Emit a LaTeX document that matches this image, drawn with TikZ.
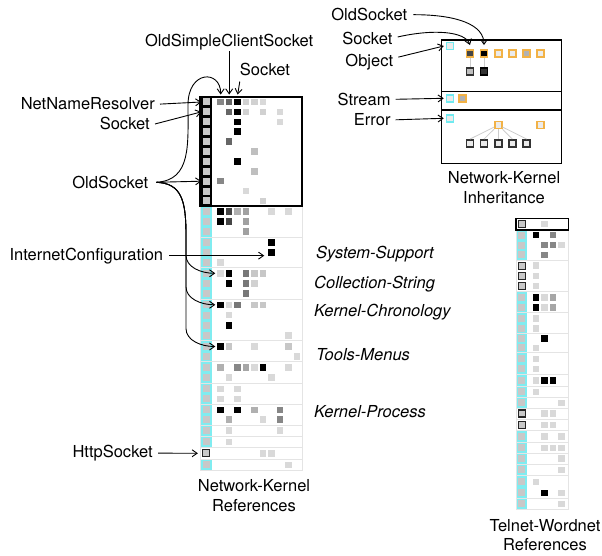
\documentclass[tikz,border=0pt]{standalone}
\usepackage{fontspec}
\setmainfont{TeX Gyre Heros}
\usetikzlibrary{arrows.meta}
\definecolor{cyanband}{RGB}{128,236,240}
\definecolor{inhorange}{RGB}{242,178,70}
\definecolor{inhcyan}{RGB}{112,234,240}
\definecolor{sepgray}{RGB}{228,228,228}
\definecolor{sqgray}{RGB}{200,200,200}
\newcommand{\lblfont}{\fontsize{16.5}{20}\selectfont}

\begin{document}
\begin{tikzpicture}[x=1pt, y=-1pt, every node/.style={inner sep=0pt, font=\lblfont},
  cell/.style={minimum size=6.5pt, fill=black!#1},
  lsq/.style={minimum size=7pt, fill=sqgray},
  lsqb/.style={lsq, draw=black!85, line width=1.3pt},
  grp/.style={draw=sepgray, line width=0.8pt},
  icy/.style={minimum size=7pt, draw=inhcyan, line width=1.5pt, fill=black!8},
  ior/.style={minimum size=7pt, draw=inhorange, line width=1.5pt, fill=black!#1},
  ich/.style={minimum size=7pt, draw=black!80, line width=1.5pt, fill=black!#1},
  cat/.style={anchor=base west, font=\lblfont\itshape},
  arr/.style={-{Straight Barb[length=5pt,width=7pt]}, line width=0.9pt},
  conn/.style={draw=black!20, line width=0.8pt}]
\useasboundingbox (0,0) rectangle (602,556);

\foreach \ya/\yb/\bd in {206/237/cyanband, 237/267.5/cyanband, 267.5/299/cyanband, 299/340.8/cyanband,
    340.8/361.8/cyanband, 361.8/383/cyanband, 383/404.2/cyanband, 404.2/425/cyanband, 425/436.2/cyanband,
    436.2/447.6/cyanband, 447.6/459.2/white, 459.2/470.3/cyanband} {
  \fill[\bd] (201,\ya) rectangle (211.5,\yb);
  \draw[grp] (200,\ya) rectangle (302,\yb);
}
\fill (200,97) rectangle (211.5,206);
\draw[line width=1.3pt] (200,97) rectangle (302,206);
\foreach \ri/\yy/\st/\cs in {0/102/lsq/{1/47,2/60,3/100,4/18,5/18,6/15}, 1/111.9/lsq/{2/60,3/100,4/18,6/18,8/15},
    2/121.8/lsq/{3/100,8/15}, 3/131.7/lsq/{3/100}, 4/141.6/lsq/{2/60}, 5/151.5/lsq/{5/25}, 6/161.4/lsq/{3/100},
    7/171.3/lsq/{5/25}, 8/181.2/lsq/{1/47}, 9/191.1/lsq/{4/15}, 10/201/lsq/{6/18},
    11/211.7/lsq/{1/100,2/73,3/31,4/37,7/15,9/15}, 12/221.7/lsq/{1/100,2/73,4/37}, 13/231.7/lsq/{4/37},
    14/242.5/lsq/{7/100}, 15/252.5/lsq/{7/100}, 16/262.3/lsq/{1/15},
    17/273.3/lsq/{1/15,2/100,4/53,5/22,6/22}, 18/283.3/lsq/{2/100,4/53,5/18}, 19/293.3/lsq/{4/53},
    20/304.8/lsq/{1/100,2/15,3/53,5/22,6/22}, 21/315/lsq/{2/15}, 22/325.3/lsq/{2/100}, 23/335.5/lsq/{9/15},
    24/346.5/lsq/{1/100,2/22,5/15,9/22}, 25/356.3/lsq/{10/15},
    26/367.6/lsq/{1/31,3/47,4/35,5/15,6/100,9/15}, 27/377.4/lsq/{2/15,7/15},
    28/388.8/lsq/{1/15,3/15}, 29/398.8/lsq/{1/15,3/15},
    30/409.8/lsq/{1/100,3/100,5/31,8/47}, 31/419.5/lsq/{2/31,6/15,8/47},
    32/430.6/lsq/{2/15,8/15}, 33/441.8/lsq/{2/15}, 34/453.3/lsqb/{6/15,7/15}, 35/464.8/lsq/{9/15}} {
  \node[\st] (nkl-\ri) at (206,\yy) {};
  \foreach \cl/\vv in \cs \node[cell=\vv] (nk-\ri-\cl) at ({212.2+8.5*\cl},\yy) {};
}

\foreach \ya/\yb/\bd in {218.3/230/white, 230/260/cyanband, 260/291.7/white, 291.7/312.3/cyanband,
    312.3/333.3/cyanband, 333.3/352.7/cyanband, 352.7/374/cyanband, 374/386.7/cyanband, 386.7/397.3/cyanband,
    397.3/408.3/cyanband, 408.3/419/white, 419/430.7/white, 430.7/442.3/cyanband, 442.3/453.3/cyanband,
    453.3/464/cyanband, 464/475.7/cyanband, 475.7/498.3/cyanband, 498.3/509.3/cyanband} {
  \fill[\bd] (516.5,\ya) rectangle (527,\yb);
  \draw[grp] (516,\ya) rectangle (568.3,\yb);
}
\draw[line width=1.4pt] (516,218.3) rectangle (568.3,230);
\foreach \ri/\yy/\st/\cs in {0/224/lsqb/{2/15}, 1/235/lsq/{1/100,3/47}, 2/245/lsq/{2/47,3/47,4/15}, 3/254.8/lsq/{2/47},
    4/265.7/lsqb/{1/15}, 5/275.8/lsqb/{1/15}, 6/286/lsqb/{1/15},
    7/297.3/lsq/{1/100,2/15,3/35}, 8/307.3/lsq/{1/100,2/15,3/35}, 9/318.3/lsq/{1/15}, 10/328.3/lsq/{1/15},
    11/338.5/lsq/{2/100}, 12/347.8/lsq/{1/15}, 13/358.8/lsq/{1/15}, 14/368.8/lsq/{1/15},
    15/380.3/lsq/{1/15,2/100,3/100}, 16/391.8/lsq/{1/15}, 17/402.8/lsq/{4/15},
    18/413.6/lsqb/{2/15,3/15}, 19/424.8/lsqb/{2/15,3/15}, 20/436.5/lsq/{2/15,4/15}, 21/447.8/lsq/{2/15,3/15,4/15},
    22/458.7/lsq/{4/15}, 23/469.8/lsq/{4/15}, 24/481.8/lsq/{1/15}, 25/492.8/lsq/{2/100,4/15}, 26/503.8/lsq/{4/15}} {
  \node[\st] (twl-\ri) at (521.7,\yy) {};
  \foreach \cl/\vv in \cs \node[cell=\vv] (tw-\ri-\cl) at ({527.5+8.5*\cl},\yy) {};
}

\draw[line width=1.3pt] (441.7,40) rectangle (561.7,163.3);
\draw[line width=1.3pt] (441.7,91.7) -- (561.7,91.7) (441.7,110) -- (561.7,110);
\node[icy] (cy1) at (450,46) {};
\node[icy] (cy2) at (450,98.3) {};
\node[icy] (cy3) at (450,118.3) {};
\foreach \i/\x/\f in {1/470/73, 2/484/100, 3/498.3/8, 4/512.3/8, 5/526.7/30, 6/540.7/8}
  \node[ior=\f] (or\i) at (\x,53.3) {};
\node[ich=25] (sub1) at (470,71.7) {};
\node[ich=80, draw=black] (sub2) at (484,71.7) {};
\draw[conn] (or1) -- (sub1) (or2) -- (sub2);
\node[ior=30] (or7) at (462.3,98.3) {};
\node[ior=8] (or8) at (498.3,125) {};
\node[ior=8] (or9) at (540.7,125) {};
\foreach \i/\x in {1/470, 2/484, 3/498.3, 4/512.3, 5/526.7} {
  \node[ich=8] (ch\i) at (\x,143.3) {};
  \draw[conn] (or8) -- (ch\i.north);
}

\node[anchor=base] (oscs) at (229.2,46.7) {OldSimpleClientSocket};
\node[anchor=base] (socka) at (265,76) {Socket};
\node[anchor=base east] (nnr) at (155,110) {NetNameResolver};
\node[anchor=base east] (sockb) at (150,130) {Socket};
\node[anchor=base east] (olds) at (148.3,188.3) {OldSocket};
\node[anchor=base east] (inetc) at (163.3,260) {InternetConfiguration};
\node[anchor=base east] (https) at (153,457.5) {HttpSocket};
\node[anchor=base] (nkt) at (254,491.7) {Network-Kernel};
\node[anchor=base] (nkr) at (254,511.7) {References};
\node[cat] (sys) at (316,258) {System-Support};
\node[cat] (colls) at (314,288) {Collection-String};
\node[cat] (kchr) at (314,316) {Kernel-Chronology};
\node[cat] (tmen) at (316,360) {Tools-Menus};
\node[cat] (kproc) at (314,417) {Kernel-Process};
\node[anchor=base east] (olds2) at (407.3,20.7) {OldSocket};
\node[anchor=base east] (sock2) at (392.7,45) {Socket};
\node[anchor=base east] (obj) at (393.3,66.5) {Object};
\node[anchor=base east] (strm) at (390.7,105.3) {Stream};
\node[anchor=base east] (err) at (390.7,125.7) {Error};
\node[anchor=base] (inht) at (504,183.3) {Network-Kernel};
\node[anchor=base] (inhb) at (504,203.3) {Inheritance};
\node[anchor=base] (twt) at (545,531.7) {Telnet-Wordnet};
\node[anchor=base] (twr) at (545,550.7) {References};

\coordinate (bend) at (188,105);
\coordinate (trunk) at (186,235);
\coordinate (ictip) at (inetc.east -| nk-15-7.west);
\draw[arr] ([yshift=-1pt]oscs.south) -- ([yshift=4pt]nk-0-2.north);
\draw[arr] ([yshift=-5pt]socka.south west) -- ([yshift=4pt]nk-0-3.north);
\draw[arr] ([xshift=5pt]nnr.east) -- ([xshift=-1pt]nkl-0.west);
\draw[arr] ([xshift=5pt]sockb.east) -- ([xshift=-1pt]nkl-1.west);
\draw[arr] ([xshift=8pt]olds.east) -- ([xshift=-1pt]nkl-8.west);
\draw[arr] ([xshift=8pt]olds.east) .. controls +(35,-2) and +(0,40) .. (bend)
  .. controls +(0,-35) and +(0,-25) .. ([yshift=4pt]nk-0-1.north);
\foreach \ri in {17,20,24}
  \draw[arr] ([xshift=8pt]olds.east) .. controls +(25,1) and +(0,-35) .. (trunk)
    -- ([yshift=18pt]trunk |- nk-\ri-1.west) .. controls +(0,12) and +(-14,0) .. ([xshift=-2pt]nk-\ri-1.west);
\draw[arr] ([xshift=6pt]inetc.east) -- ([xshift=-4pt]ictip);
\draw[arr] ([xshift=5pt]https.east) -- ([xshift=-4pt]nkl-34.west);
\draw[arr] ([xshift=6pt]olds2.east) .. controls +(45,0) and +(0,-20) .. ([yshift=4pt]or2.north);
\draw[arr] ([xshift=5pt,yshift=2pt]sock2.east) .. controls +(35,-8) and +(-5,-14) .. ([yshift=4pt]or1.north);
\draw[arr] ([xshift=5pt,yshift=5pt]obj.east) -- ([xshift=-2pt]cy1.west);
\draw[arr] ([xshift=5pt]strm.east) -- ([xshift=-2pt]cy2.west);
\draw[arr] ([xshift=5pt]err.east) -- ([xshift=-2pt]cy3.west);
\end{tikzpicture}
\end{document}
